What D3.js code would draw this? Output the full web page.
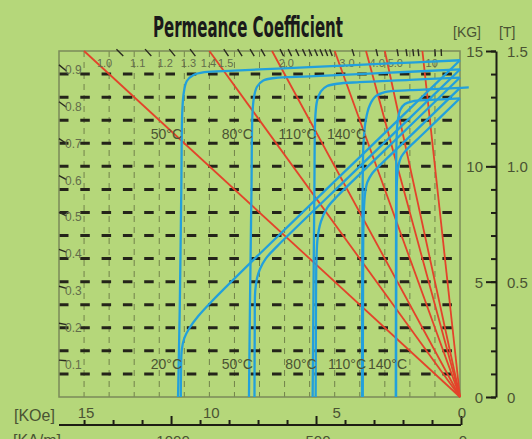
<!DOCTYPE html>
<html>
<head>
<meta charset="utf-8">
<script src="https://cdn.jsdelivr.net/npm/d3@7"></script>
<style>
  html, body { margin: 0; padding: 0; background: #b5d77a; }
  svg { display: block; font-family: "Liberation Sans", Arial, sans-serif; }
</style>
</head>
<body>
<svg id="chart" width="532" height="439"></svg>
<script>
// ---- data (H in KOe, B in KG) ----
const temps = ["20°C", "50°C", "80°C", "110°C", "140°C"];

// intrinsic (J) curves, one per temperature
const jCurves = [
  [[0,14.6],[3,14.45],[6,14.3],[9,14.15],[10.2,14.08],[10.65,13.95],[10.9,13.7],[11.02,13.2],[11.08,12.4],[11.12,9],[11.18,4],[11.25,0]],
  [[0,14.2],[3,14.05],[6,13.9],[7.4,13.83],[7.85,13.72],[8.1,13.45],[8.22,13.0],[8.28,12.3],[8.32,9],[8.38,4],[8.42,0]],
  [[0,13.85],[2,13.75],[4,13.65],[4.9,13.58],[5.3,13.48],[5.55,13.25],[5.7,12.85],[5.77,12.2],[5.81,9],[5.85,4],[5.88,0]],
  [[-0.35,13.42],[0,13.4],[2,13.3],[3.0,13.22],[3.35,13.05],[3.6,12.65],[3.76,12.0],[3.85,11.0],[3.89,8],[3.91,0]],
  [[0,12.95],[1.2,12.88],[1.9,12.82],[2.2,12.7],[2.38,12.45],[2.48,12.0],[2.53,11.2],[2.55,8],[2.56,0]]
];

// normal (B) curves
const bCurves = [
  [[0,14.6],[4,10.4],[8,6.2],[9.9,4.15],[10.45,3.5],[10.8,2.98],[11.0,2.55],[11.1,2.05],[11.13,1.2],[11.14,0]],
  [[0,14.2],[4,10.0],[7.3,6.53],[7.75,6.0],[7.98,5.55],[8.1,5.15],[8.17,4.6],[8.19,3],[8.2,0]],
  [[0,13.85],[3,10.7],[4.9,8.7],[5.3,8.2],[5.55,7.6],[5.68,6.9],[5.73,5.8],[5.75,3],[5.76,0]],
  [[0,13.4],[2,11.3],[3.2,10.04],[3.5,9.7],[3.7,9.3],[3.8,8.7],[3.85,7.5],[3.87,4],[3.88,0]],
  [[0,12.95],[1.5,11.38],[2.15,10.7],[2.35,10.4],[2.46,10.0],[2.52,9.3],[2.54,7],[2.55,0]]
];

const pcLines = [1.0, 1.5, 2.0, 3.0, 4.0, 5.0, 10];
const pcTicks = [1.1,1.2,1.3,1.4,1.6,1.7,1.8,1.9,2.1,2.2,2.3,2.4,2.5,2.6,2.7,2.8,2.9,3.5,4.5,6,7,8,9,15,20];
const pcTopLabels = ["1.0","1.1","1.2","1.3","1.4","1.5","2.0","3.0","4.0","5.0","10"];
const pcLeftLabels = ["0.1","0.2","0.3","0.4","0.5","0.6","0.7","0.8","0.9"];

const koeLabels = [15, 10, 5, 0];
const kamTicks = [0,100,200,300,400,500,600,700,800,900,1000,1100,1200,1300];
const kamLabels = [1000, 500, 0];
const kgTicks = [0,1,2,3,4,5,6,7,8,9,10,11,12,13,14,15];
const kgLabels = [0, 5, 10, 15];
const teslaLabels = ["0", "0.5", "1.0", "1.5"];

// ---- scales ----
const x = d3.scaleLinear().domain([16, 0]).range([59, 460]);
const y = d3.scaleLinear().domain([0, 15]).range([397, 51]);
const kam = d3.scaleLinear().domain([1300, 0]).range([x(15), 461]);

const svg = d3.select("#chart");
const ink = "#1d1d14";
const grey = "#4a5333";

svg.append("rect").attr("width", 532).attr("height", 439).attr("fill", "#b5d77a");

// title, squeezed horizontally to the narrow look of the original
const title = svg.append("text")
  .attr("font-family", "'DejaVu Sans Condensed', 'DejaVu Sans', sans-serif")
  .attr("font-weight", "bold").attr("font-size", 28)
  .attr("fill", "#1a1a1a")
  .text("Permeance Coefficient");
const titleW = title.node().getComputedTextLength();
title.attr("transform", `translate(153,37) scale(${190 / titleW},1)`);

// grid
const grid = svg.append("g");
grid.selectAll("line.v")
  .data(d3.range(1, 16))
  .join("line")
    .attr("x1", d => x(d)).attr("x2", d => x(d))
    .attr("y1", y(15)).attr("y2", y(0))
    .attr("stroke", "#71824a").attr("stroke-width", 1)
    .attr("stroke-dasharray", "6,5");

grid.selectAll("line.h")
  .data(d3.range(1, 15))
  .join("line")
    .attr("x1", x(16)).attr("x2", x(0))
    .attr("y1", d => y(d)).attr("y2", d => y(d))
    .attr("stroke", "#24241a").attr("stroke-width", 3)
    .attr("stroke-dasharray", "9.5,11.8");

svg.append("rect")
  .attr("x", x(16)).attr("y", y(15))
  .attr("width", x(0) - x(16)).attr("height", y(0) - y(15))
  .attr("fill", "none").attr("stroke", "#7b8a5a").attr("stroke-width", 1.5);

// permeance lines
svg.append("g").selectAll("line")
  .data(pcLines)
  .join("line")
    .attr("x1", x(0)).attr("y1", y(0))
    .attr("x2", d => x(15 / d)).attr("y2", y(15))
    .attr("stroke", "#e3432b").attr("stroke-width", 1.8);

// short permeance ticks on top and left edges
svg.append("g").selectAll("line")
  .data(pcTicks)
  .join("line")
    .attr("x1", d => x(15.08 / d)).attr("y1", y(15.08))
    .attr("x2", d => x(14.78 / d)).attr("y2", y(14.78))
    .attr("stroke", "#2a2a20").attr("stroke-width", 1.4);

svg.append("g").selectAll("line")
  .data(pcLeftLabels)
  .join("line")
    .attr("x1", x(16)).attr("y1", d => y(16 * +d))
    .attr("x2", x(15.7)).attr("y2", d => y(15.7 * +d))
    .attr("stroke", "#2a2a20").attr("stroke-width", 1.4);

svg.append("g").selectAll("text")
  .data(pcTopLabels)
  .join("text")
    .attr("x", d => x(14.5 / +d) + 8).attr("y", 67)
    .attr("text-anchor", "middle")
    .attr("font-size", 11).attr("fill", "#626c4b")
    .text(d => d);

svg.append("g").selectAll("text")
  .data(pcLeftLabels)
  .join("text")
    .attr("x", 65).attr("y", d => y(16 * +d) + 9)
    .attr("font-size", 12).attr("fill", "#626c4b")
    .text(d => d);

// demagnetization curves
const line = d3.line()
  .x(d => x(d[0])).y(d => y(d[1]))
  .curve(d3.curveCatmullRom.alpha(0.5));

svg.append("g").selectAll("path")
  .data(bCurves.concat(jCurves))
  .join("path")
    .attr("d", line)
    .attr("fill", "none")
    .attr("stroke", "#22a0dc").attr("stroke-width", 2.3);

// temperature labels, pushed right when they would collide
const hcj = jCurves.map(c => c[c.length - 1][0]);
function tempRow(labels, baseY) {
  const txt = svg.append("g").selectAll("text")
    .data(labels)
    .join("text")
      .attr("y", baseY)
      .attr("font-size", 14).attr("fill", grey)
      .text(d => d);
  let lastEnd = -Infinity;
  txt.each(function(d, i) {
    const w = this.getComputedTextLength();
    let start = x(hcj[i]) + 4 - w;
    if (start < lastEnd + 2) start = lastEnd + 2;
    d3.select(this).attr("x", start);
    lastEnd = start + w;
  });
}
tempRow(temps.slice(1), 139);
tempRow(temps, 369);

// right axis (KG / T)
const right = svg.append("g").attr("transform", `translate(496,0)`);
right.call(d3.axisLeft(y).tickValues(kgTicks).tickSize(5).tickSizeOuter(0).tickFormat(""))
  .call(g => g.selectAll("line").attr("stroke", ink).attr("stroke-width", 2))
  .call(g => g.select(".domain").attr("stroke", ink).attr("stroke-width", 2));
right.append("g")
  .call(d3.axisLeft(y).tickValues(kgLabels).tickSize(10).tickSizeOuter(0).tickFormat(""))
  .call(g => g.select(".domain").remove())
  .call(g => g.selectAll("line").attr("stroke", ink).attr("stroke-width", 2));

svg.append("g").selectAll("text")
  .data(kgLabels)
  .join("text")
    .attr("x", 483).attr("y", d => y(d) + 6)
    .attr("text-anchor", "end")
    .attr("font-size", 15).attr("fill", grey)
    .text(d => d);

svg.append("g").selectAll("text")
  .data(teslaLabels)
  .join("text")
    .attr("x", 507).attr("y", (d, i) => y(kgLabels[i]) + 6)
    .attr("font-size", 15).attr("fill", grey)
    .text(d => d);

svg.append("text").attr("x", 453).attr("y", 37)
  .attr("font-size", 14).attr("fill", grey).text("[KG]");
svg.append("text").attr("x", 499).attr("y", 37)
  .attr("font-size", 14).attr("fill", grey).text("[T]");

// bottom axis (KOe / kA/m)
const bottomY = 425;
svg.append("line")
  .attr("x1", x(16)).attr("x2", kam(0))
  .attr("y1", bottomY).attr("y2", bottomY)
  .attr("stroke", ink).attr("stroke-width", 2);

svg.append("g").attr("transform", `translate(0,${bottomY})`)
  .call(d3.axisTop(kam).tickValues(kamTicks).tickSizeOuter(0).tickFormat("")
    .tickSize(5))
  .call(g => g.select(".domain").remove())
  .call(g => g.selectAll(".tick line")
    .attr("y2", d => kamLabels.includes(d) ? -9 : -5)
    .attr("stroke", ink).attr("stroke-width", 2));

svg.append("g").selectAll("text")
  .data(koeLabels)
  .join("text")
    .attr("x", d => x(d) + 2).attr("y", 418)
    .attr("text-anchor", "middle")
    .attr("font-size", 15).attr("fill", grey)
    .text(d => d);

svg.append("g").selectAll("text")
  .data(kamLabels)
  .join("text")
    .attr("x", d => kam(d) + 2).attr("y", 446)
    .attr("text-anchor", "middle")
    .attr("font-size", 15).attr("fill", grey)
    .text(d => d);

svg.append("text").attr("x", 14).attr("y", 421)
  .attr("font-size", 16).attr("fill", grey).text("[KOe]");
svg.append("text").attr("x", 13).attr("y", 446)
  .attr("font-size", 16).attr("fill", grey).text("[KA/m]");
</script>
</body>
</html>
